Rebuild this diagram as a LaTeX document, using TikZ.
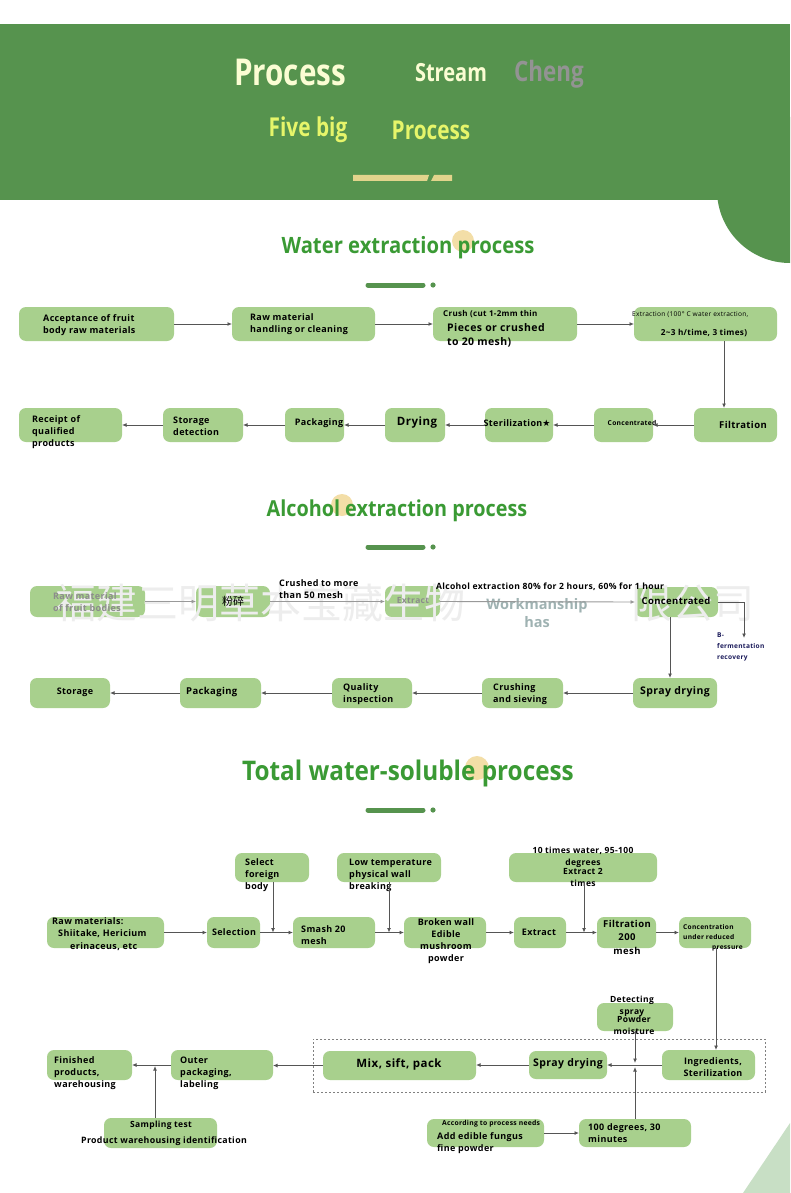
\documentclass[tikz,border=0pt]{standalone}
\usepackage{fontspec}
\setmainfont{Open Sans}
\newfontfamily\bodyf[LetterSpace=4]{Open Sans}
\newfontfamily\condf[FakeStretch=0.8]{Open Sans}
\newfontfamily\titf[FakeStretch=0.9]{Open Sans}
\newfontfamily\cjkf{Noto Sans CJK SC}
\newfontfamily\symf{DejaVu Sans}
\usetikzlibrary{arrows.meta}
\definecolor{hdr}{HTML}{56934E}
\definecolor{boxg}{HTML}{A8D08D}
\definecolor{arrg}{HTML}{555555}
\definecolor{cream}{HTML}{FBFDD3}
\definecolor{yel}{HTML}{E6F56A}
\definecolor{beige}{HTML}{E2D48C}
\definecolor{titg}{HTML}{3A9A34}
\definecolor{orng}{HTML}{F0D38A}
\definecolor{wmk}{HTML}{EDEDED}
\definecolor{navy}{HTML}{1A1A5A}
\definecolor{paleg}{HTML}{C8DFC5}
\newcommand\fs[2]{\bodyf\bfseries\fontsize{#1}{#2}\selectfont}
\newcommand\bx[5]{\node[box,minimum width={#4-#2},minimum height={#5-#3}] (#1) at ({(#2+#4)/2},{(#3+#5)/2}) {};}
\tikzset{
  box/.style={rounded corners=7pt, fill=boxg, inner sep=0pt, outer sep=0pt},
  txt/.style={font=\fs{9}{12}, inner sep=0pt, align=left, text=black},
  arr/.style={draw=arrg, line width=0.9pt, -{Latex[length=4.5pt,width=4pt]}},
  dashbox/.style={draw=gray, dash pattern=on 2pt off 2pt, line width=0.8pt, inner sep=0pt},
  title/.style={font=\titf\bfseries\fontsize{22.5}{26}\selectfont, text=titg, inner sep=0pt},
  hd/.style={font=\condf\bfseries\fontsize{25}{28}\selectfont, inner sep=0pt},
}
\begin{document}
\begin{tikzpicture}[x=1pt,y=-1pt]
\useasboundingbox (0,0) rectangle (790,1193);
\fill[white] (0,0) rectangle (790,1193);
% header
\fill[hdr] (0,24) rectangle (790,200);
\begin{scope}
\clip (0,0) rectangle (790,1193);
\fill[hdr] (790,190) circle (73pt);
\end{scope}
\fill[paleg] (790,1123) -- (743,1193) -- (790,1193) -- cycle;
\node[hd, font=\condf\bfseries\fontsize{37}{40}\selectfont, text=cream] (h1) at (290,72) {Process};
\node[hd, text=cream] (h2) at (451,73) {Stream};
\node[hd, font=\condf\bfseries\fontsize{28}{30}\selectfont, text=gray!85] (h3) at (549,74) {Cheng};
\node[hd, font=\condf\bfseries\fontsize{26}{28}\selectfont, text=yel] (h4) at (308,130) {Five big};
\node[hd, font=\condf\bfseries\fontsize{26}{28}\selectfont, text=yel] (h5) at (431,130) {Process};
\fill[beige] (353,175) -- (429,175) -- (427,181) -- (353,181) -- cycle;
\fill[beige] (434,175) -- (452,175) -- (452,181) -- (431,181) -- cycle;

% ---------- section 1
\fill[orng, opacity=0.75] (463,241) circle (11pt);
\node[title] (t1) at (408,248) {Water extraction process};
\draw[hdr, line width=5pt, line cap=round] (368,285) -- (423,285);
\fill[hdr] (433,285) circle (2.6pt);

\bx{a1}{19}{307}{174}{341}
\bx{a2}{232}{307}{375}{341}
\bx{a3}{433}{307}{577}{341}
\bx{a4}{634}{307}{777}{341}
\bx{f1}{694}{408}{777}{442}
\bx{c1}{594}{408}{653}{442}
\bx{s1}{485}{408}{553}{442}
\bx{d1}{385}{408}{445}{442}
\bx{p1}{285}{408}{344}{442}
\bx{sd1}{163}{408}{243}{442}
\bx{r1}{19}{408}{122}{442}

\node[txt, anchor=west] (a1t) at (43,325) {Acceptance of fruit\\body raw materials};
\node[txt, anchor=west] (a2t) at (250,324) {Raw material\\handling or cleaning};
\node[txt, font=\fs{8}{9}, anchor=west] (a3t) at (443,314) {Crush (cut 1-2mm thin};
\node[txt, font=\fs{10.5}{14}, anchor=west] (a3u) at (447,335) {Pieces or crushed\\to 20 mesh)};
\node[txt, font=\bodyf\fontsize{6.6}{7}\selectfont, anchor=west] (a4t) at (632,315) {Extraction (100° C water extraction,};
\node[txt, font=\fs{8.2}{9}] (a4u) at (704,333) {2\textasciitilde3 h/time, 3 times)};
\node[txt, font=\fs{9.5}{11}] (f1t) at (743,425) {Filtration};
\node[txt, font=\fs{6.7}{8}] (c1t) at (632,423) {Concentrated};
\node[txt] (s1t) at (517,423) {Sterilization{\symf\fontsize{9}{9}\selectfont ★}};
\node[txt, font=\fs{11.5}{13}] (d1t) at (417,423) {Drying};
\node[txt] (p1t) at (319,423) {Packaging};
\node[txt, anchor=west] (sd1t) at (173,426) {Storage\\detection};
\node[txt, anchor=west] (r1t) at (32,432) {Receipt of\\qualified\\products};

\coordinate (v1) at (724,0);
\draw[arr] (a1.east) -- (a2.west);
\draw[arr] (a2.east) -- (a3.west);
\draw[arr] (a3.east) -- (a4.west);
\draw[arr] (a4.south -| v1) -- (f1.north -| v1);
\draw[arr] (f1.west) -- (c1.east);
\draw[arr] (c1.west) -- (s1.east);
\draw[arr] (s1.west) -- (d1.east);
\draw[arr] (d1.west) -- (p1.east);
\draw[arr] (p1.west) -- (sd1.east);
\draw[arr] (sd1.west) -- (r1.east);

% ---------- section 2
\fill[orng, opacity=0.75] (342,505) circle (11pt);
\node[title, font=\titf\bfseries\fontsize{22}{26}\selectfont] (t2) at (397,511) {Alcohol extraction process};
\draw[hdr, line width=5pt, line cap=round] (368,547) -- (423,547);
\fill[hdr] (433,547) circle (2.6pt);

\bx{b1}{30}{586}{145}{617}
\bx{b2}{196}{586}{270}{617}
\bx{b3}{385}{586}{440}{617}
\bx{b4}{635}{587}{718}{617}
\bx{b5}{633}{678}{717}{708}
\bx{b6}{482}{678}{563}{708}
\bx{b7}{332}{678}{412}{708}
\bx{b8}{180}{678}{261}{708}
\bx{b9}{30}{678}{110}{708}

% watermark
\node[inner sep=0pt, anchor=west, text=wmk, font=\cjkf\fontsize{41}{44}\selectfont] (wm1) at (55,603) {福建三明草本宝藏生物};
\node[inner sep=0pt, anchor=west, text=wmk, font=\cjkf\fontsize{41}{44}\selectfont] (wm2) at (631,603) {限公司};

\node[txt, text=gray!90, anchor=west] (b1t) at (53,602) {Raw material\\of fruit bodies};
\node[txt, font=\cjkf\fontsize{11}{12}\selectfont] (b2t) at (233,601) {粉碎};
\node[txt, text=gray!90, font=\fs{8.5}{10}] (b3t) at (413,601) {Extract};
\node[txt, anchor=west] (b12l) at (279,589.5) {Crushed to more\\than 50 mesh};
\node[txt, font=\fs{8.6}{10}] (b34l) at (550,587) {Alcohol extraction 80\% for 2 hours, 60\% for 1 hour};
\node[txt, font=\fs{9.5}{11}] (b4t) at (676,601) {Concentrated};
\node[txt, text=navy, font=\fs{6.6}{11}, anchor=west] (b4l) at (717,647) {B-\\fermentation\\recovery};
\node[txt, font=\fs{10.5}{12}] (b5t) at (675,692) {Spray drying};
\node[txt, anchor=west] (b6t) at (493,694) {Crushing\\and sieving};
\node[txt, anchor=west] (b7t) at (343,694) {Quality\\inspection};
\node[txt, font=\fs{9.5}{11}, anchor=west] (b8t) at (186,692) {Packaging};
\node[txt] (b9t) at (75,692) {Storage};
\node[txt, align=center, text=gray!75!teal!60, font=\bfseries\fontsize{14.5}{18}\selectfont] (wm3) at (537,613) {Workmanship\\has};

\coordinate (v3) at (670,0);
\coordinate (e1) at (744,638);
\draw[arr, draw=gray!80] (b1.east) -- (b2.west);
\draw[arr, draw=gray!80] (b2.east) -- (b3.west);
\draw[arr, draw=gray!80] (b3.east) -- (b4.west);
\draw[arr] (b4.east) -| (e1);
\draw[arr] (b4.south -| v3) -- (b5.north -| v3);
\draw[arr] (b5.west) -- (b6.east);
\draw[arr] (b6.west) -- (b7.east);
\draw[arr] (b7.west) -- (b8.east);
\draw[arr] (b8.west) -- (b9.east);

% ---------- section 3
\fill[orng, opacity=0.75] (477,768) circle (12pt);
\node[title, font=\titf\bfseries\fontsize{27}{30}\selectfont] (t3) at (408,773) {Total water-soluble process};
\draw[hdr, line width=5pt, line cap=round] (368,810) -- (423,810);
\fill[hdr] (433,810) circle (2.6pt);

\node[dashbox, minimum width=452, minimum height=53] (grp) at (539,1065.5) {};

\bx{raw}{47}{917}{164}{948}
\bx{sel}{207}{917}{260}{948}
\bx{sfb}{235}{853}{309}{882}
\bx{sm}{293}{917}{375}{948}
\bx{low}{337}{853}{441}{882}
\bx{bw}{404}{917}{486}{948}
\bx{ex}{514}{917}{566}{948}
\bx{tw}{509}{853}{657}{882}
\bx{fil}{597}{917}{656}{948}
\bx{conc}{679}{917}{751}{948}
\bx{det}{597}{1003}{673}{1031}
\bx{ing}{662}{1050}{755}{1080}
\bx{sp}{529}{1051}{607}{1079}
\bx{mix}{323}{1051}{476}{1080}
\bx{out}{171}{1050}{273}{1080}
\bx{fin}{47}{1050}{132}{1080}
\bx{samp}{104}{1118}{217}{1148}
\bx{hund}{579}{1119}{691}{1147}
\bx{add}{427}{1119}{544}{1147}

\node[txt, anchor=west, font=\fs{9}{12.5}] (rawt) at (52,934) {Raw materials:\\\hspace{6pt}Shiitake, Hericium\\\hspace{18pt}erinaceus, etc};
\node[txt] (selt) at (234,932) {Selection};
\node[txt, anchor=west] (sfbt) at (245,875) {Select\\foreign\\body};
\node[txt, anchor=west] (smt) at (301,935) {Smash 20\\mesh};
\node[txt, anchor=west] (lowt) at (349,875) {Low temperature\\physical wall\\breaking};
\node[txt, align=center] (bwt) at (446,941) {Broken wall\\Edible\\mushroom\\powder};
\node[txt] (ext) at (539,932) {Extract};
\node[txt, align=center, font=\fs{8.5}{12}] (twt) at (583,857) {10 times water, 95-100\\degrees};
\node[txt, align=center, font=\fs{8.5}{12}] (twu) at (583,877) {Extract 2\\times};
\node[txt, align=center, font=\fs{9.5}{13.5}] (filt) at (627,937) {Filtration\\200\\mesh};
\node[txt, anchor=west, font=\fs{6.6}{10}] (conct) at (683,938) {Concentration\\under reduced\\\hspace{29pt}pressure};
\node[txt, align=center, font=\fs{8.5}{12}] (dett) at (632,1006) {Detecting\\spray};
\node[txt, align=center, font=\fs{8.5}{12}] (detu) at (634,1025) {Powder\\moisture};
\node[txt, align=center] (ingt) at (713,1067) {Ingredients,\\Sterilization};
\node[txt, font=\fs{10.5}{12}] (spt) at (568,1064) {Spray drying};
\node[txt, font=\fs{11.5}{13}] (mixt) at (399,1064) {Mix, sift, pack};
\node[txt, anchor=west] (outt) at (180,1073) {Outer\\packaging,\\labeling};
\node[txt, anchor=west] (fint) at (54,1073) {Finished\\products,\\warehousing};
\node[txt, font=\fs{8.5}{10}] (sampt) at (161,1125) {Sampling test};
\node[txt, font=\fs{8.8}{10}] (sampu) at (164,1141) {Product warehousing identification};
\node[txt, anchor=west, font=\fs{6.8}{8}] (addt) at (442,1124) {According to process needs};
\node[txt, anchor=west] (addu) at (437,1143) {Add edible fungus\\fine powder};
\node[txt, anchor=west] (hundt) at (588,1133) {100 degrees, 30\\minutes};

\coordinate (j1) at (273,932.5);
\coordinate (j2) at (389,932.5);
\coordinate (j3) at (584,932.5);
\coordinate (j4) at (635,1063);
\coordinate (j5) at (635,1067);
\coordinate (j6) at (155,1066);
\coordinate (v4) at (716,0);
\draw[arr] (raw.east) -- (sel.west);
\draw[arr] (sel.east) -- (sm.west);
\draw[arr] (sfb.south -| j1) -- (j1);
\draw[arr] (sm.east) -- (bw.west);
\draw[arr] (low.south -| j2) -- (j2);
\draw[arr] (bw.east) -- (ex.west);
\draw[arr] (ex.east) -- (fil.west);
\draw[arr] (tw.south -| j3) -- (j3);
\draw[arr] (fil.east) -- (conc.west);
\draw[arr] (conc.south -| v4) -- (ing.north -| v4);
\draw[arr] (ing.west) -- (sp.east |- ing.west);
\draw[arr] (det.south -| j4) -- (j4);
\draw[arr] (hund.north -| j5) -- (j5);
\draw[arr] (sp.west) -- (mix.east |- sp.west);
\draw[arr] (mix.west) -- (out.east |- mix.west);
\draw[arr] (out.west) -- (fin.east);
\draw[arr] (samp.north -| j6) -- (j6);
\draw[arr] (add.east) -- (hund.west);
\end{tikzpicture}
\end{document}
